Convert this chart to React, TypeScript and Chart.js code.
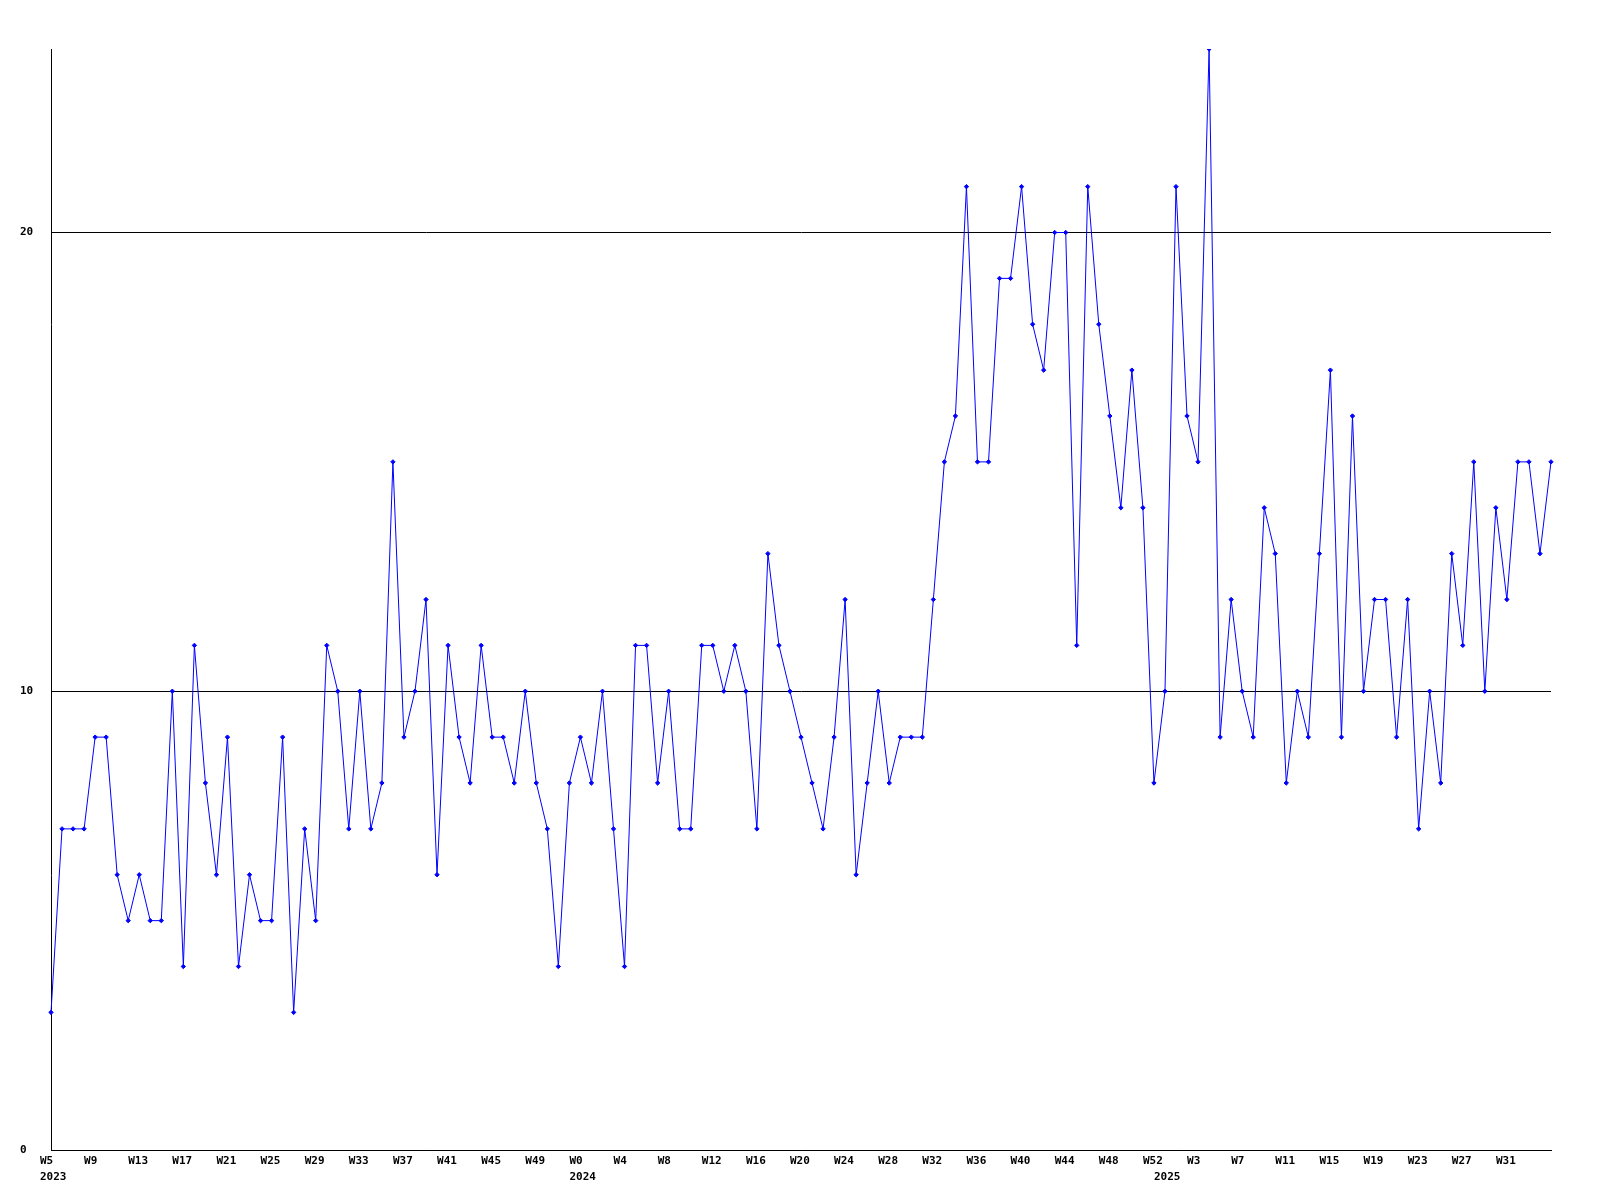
import { useEffect, useRef } from 'react';
import { Chart, registerables } from 'chart.js';

Chart.register(...registerables);

// Years covered and their first / last week shown
const years = [2023, 2024, 2025];
const yearFirstWeek = [5, 0, 0];
const yearLastWeek = [52, 52, 35];

// Weekly values
const values = [
  3, 7, 7, 7, 9, 9, 6, 5, 6, 5,
  5, 10, 4, 11, 8, 6, 9, 4, 6, 5,
  5, 9, 3, 7, 5, 11, 10, 7, 10, 7,
  8, 15, 9, 10, 12, 6, 11, 9, 8, 11,
  9, 9, 8, 10, 8, 7, 4, 8, 9, 8,
  10, 7, 4, 11, 11, 8, 10, 7, 7, 11,
  11, 10, 11, 10, 7, 13, 11, 10, 9, 8,
  7, 9, 12, 6, 8, 10, 8, 9, 9, 9,
  12, 15, 16, 21, 15, 15, 19, 19, 21, 18,
  17, 20, 20, 11, 21, 18, 16, 14, 17, 14,
  8, 10, 21, 16, 15, 24, 9, 12, 10, 9,
  14, 13, 8, 10, 9, 13, 17, 9, 16, 10,
  12, 12, 9, 12, 7, 10, 8, 13, 11, 15,
  10, 14, 12, 15, 15, 13, 15,
];

const yMin = 0;
const yMax = 24;
const yStep = 10;
const weekTickEvery = 4;

type Cat = { year: number; week: number; firstOfYear: boolean };
const categories: Cat[] = [];
years.forEach((year, i) => {
  for (let w = yearFirstWeek[i]; w <= yearLastWeek[i]; w++) {
    categories.push({ year, week: w, firstOfYear: w === yearFirstWeek[i] });
  }
});
const labels = categories.map((c) => `${c.year} W${c.week}`);

const FONT = { family: '"DejaVu Sans Mono", monospace', size: 11, weight: 'bold' as const, lineHeight: 16 / 11 };

export default function App() {
  const ref = useRef<HTMLCanvasElement | null>(null);

  useEffect(() => {
    if (!ref.current) return;
    const chart = new Chart(ref.current, {
      type: 'line',
      data: {
        labels,
        datasets: [
          {
            data: values,
            borderColor: '#0000ff',
            backgroundColor: '#0000ff',
            borderWidth: 1,
            tension: 0,
            pointStyle: 'rectRot',
            pointRadius: 2.2,
            pointBorderWidth: 1,
            pointBorderColor: '#0000ff',
            pointBackgroundColor: '#0000ff',
          },
        ],
      },
      options: {
        responsive: false,
        animation: false,
        events: [],
        layout: { padding: { left: 20, top: 49, right: 49, bottom: 0 } },
        plugins: { legend: { display: false }, tooltip: { enabled: false } },
        scales: {
          x: {
            type: 'category',
            offset: false,
            grid: { display: false, drawTicks: false },
            border: { display: true, color: '#000', width: 1 },
            afterFit: (s: any) => {
              s.height = 50;
            },
            ticks: {
              autoSkip: false,
              maxRotation: 0,
              minRotation: 0,
              align: 'start',
              labelOffset: -11,
              padding: 3,
              color: '#000',
              font: FONT,
              callback: (_v: any, index: number) => {
                const c = categories[index];
                const showWeek = index % weekTickEvery === 0 && index < categories.length - 1;
                const wk = showWeek ? `W${c.week}` : '';
                if (c.firstOfYear) return [wk, String(c.year)];
                return wk;
              },
            },
          },
          y: {
            type: 'linear',
            min: yMin,
            max: yMax,
            grid: { color: '#000', lineWidth: 1, drawTicks: false },
            border: { display: true, color: '#000', width: 1 },
            afterFit: (s: any) => {
              s.width = 31;
            },
            ticks: {
              stepSize: yStep,
              includeBounds: false,
              crossAlign: 'far',
              padding: 0,
              color: '#000',
              font: FONT,
            },
          },
        },
      },
    });
    return () => chart.destroy();
  }, []);

  return (
    <div style={{ position: 'absolute', left: 0, top: 0, width: 1600, height: 1200, background: '#fff' }}>
      <canvas ref={ref} width={1600} height={1200} style={{ display: 'block' }} />
    </div>
  );
}
